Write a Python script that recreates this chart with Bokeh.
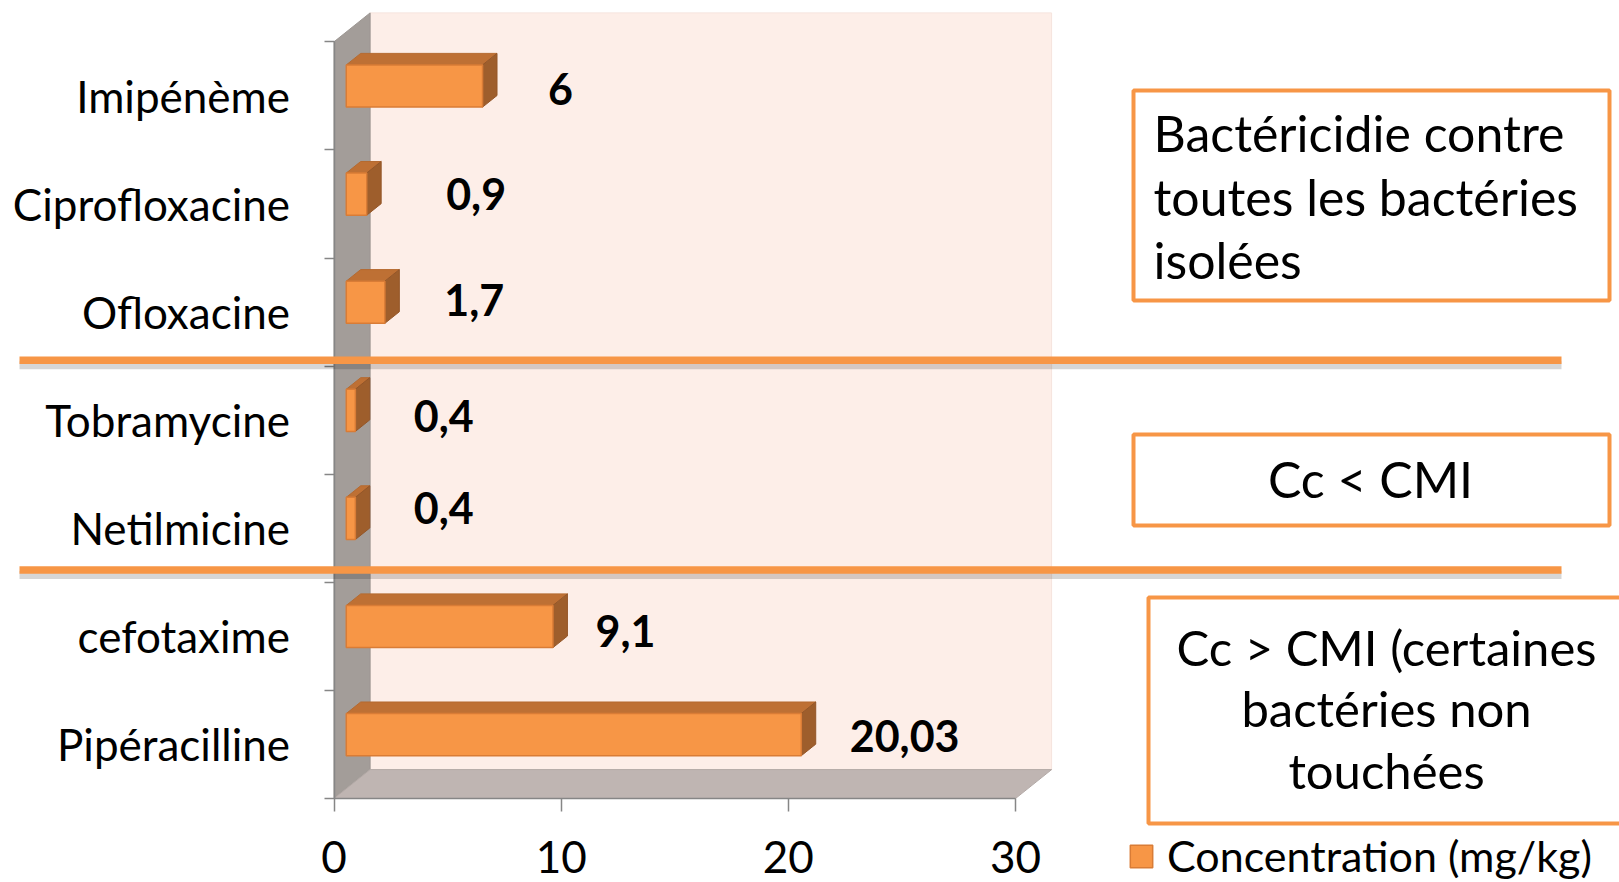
from bokeh.plotting import figure
from bokeh.models import Range1d, LinearAxis, FixedTicker, ColumnDataSource, Legend, LegendItem
from bokeh.core.properties import value
from bokeh.embed import file_html
from bokeh.resources import INLINE

# ---------------- data ----------------
categories = ["Pipéracilline", "cefotaxime", "Netilmicine", "Tobramycine",
              "Ofloxacine", "Ciprofloxacine", "Imipénème"]
concentrations = [20.03, 9.1, 0.4, 0.4, 1.7, 0.9, 6]
value_labels = ["20,03", "9,1", "0,4", "0,4", "1,7", "0,9", "6"]
x_ticks = [0, 10, 20, 30]
series_name = "Concentration (mg/kg)"
note_top = "Bactéricidie contre\ntoutes les bactéries\nisolées"
note_mid = "Cc < CMI"
note_bot = "Cc > CMI (certaines\nbactéries non\ntouchées"

# ---------------- layout / style ----------------
label_dx = [34, 28, 44, 44, 45, 65, 51]      # px, label offset from bar end
label_dy = [1, 4, -10, 6, -2, 0, 3]          # px, label offset (down)
FONT = "Lato"
ORANGE = "#F79646"
W, H = 1619, 882
OFF = 0
n = len(categories)
x_min, x_max = 0, 30
kx = (1015.0 - 333.5) / (x_max - x_min)      # px per value unit
ky = (798.0 - 41.3) / n                      # px per category
x_start = x_min - (333.5 - OFF) / kx
x_end = x_start + W / kx
y_base = 0.5
y_start = y_base - (OFF + H - 798.0) / ky
y_end = y_start + H / ky

def X(px):
    return x_start + (px - OFF) / kx

def Y(py):
    return y_end - (py - OFF) / ky

Dx = 36.1 / kx      # depth vector in data units
Dy = 28.9 / ky
f1, f2 = 0.34, 0.74  # bar depth from / to
bh = 0.39            # bar thickness (category units)

p = figure(width=W, height=H, x_range=Range1d(x_start, x_end), y_range=Range1d(y_start, y_end),
           output_backend="svg", toolbar_location=None, x_axis_location=None,
           y_axis_location=None, min_border=0)
p.outline_line_color = None
p.grid.grid_line_color = None
p.background_fill_color = "white"
p.border_fill_color = "white"

# ---------------- 3D walls ----------------
y_top = y_base + n
wall_xs = [
    [x_min + Dx, x_max + Dx, x_max + Dx, x_min + Dx],                 # back wall
    [x_min, x_min + Dx, x_min + Dx, x_min],                            # side wall
    [x_min, x_max, x_max + Dx, x_min + Dx],                            # floor
]
wall_ys = [
    [y_base + Dy, y_base + Dy, y_top + Dy, y_top + Dy],
    [y_base, y_base + Dy, y_top + Dy, y_top],
    [y_base, y_base, y_base + Dy, y_base + Dy],
]
p.patches(xs=wall_xs, ys=wall_ys, fill_color=["#FDEEE8", "#A39D99", "#BFB5B2"],
          line_color=["#F6E4DD", "#9C9692", "#B3A9A6"], line_width=1)

# ---------------- bars ----------------
centers = [i + 1 for i in range(n)]
x0f = [x_min + f1 * Dx for _ in concentrations]
x1f = [v + f1 * Dx for v in concentrations]
x0b = [x_min + f2 * Dx for _ in concentrations]
x1b = [v + f2 * Dx for v in concentrations]
ytf = [c + bh / 2 + f1 * Dy for c in centers]
ybf = [c - bh / 2 + f1 * Dy for c in centers]
ytb = [c + bh / 2 + f2 * Dy for c in centers]
ybb = [c - bh / 2 + f2 * Dy for c in centers]

top_xs = [[a, b, d, c] for a, b, c, d in zip(x0f, x1f, x0b, x1b)]
top_ys = [[t1, t1, t2, t2] for t1, t2 in zip(ytf, ytb)]
side_xs = [[b, b, d, d] for b, d in zip(x1f, x1b)]
side_ys = [[b1, t1, t2, b2] for b1, t1, t2, b2 in zip(ybf, ytf, ytb, ybb)]
p.patches(xs=top_xs, ys=top_ys, fill_color="#BE7034", line_color="#B56A30", line_width=1)
p.patches(xs=side_xs, ys=side_ys, fill_color="#9E5E2C", line_color="#945628", line_width=1)

src = ColumnDataSource(dict(cat=categories, v=concentrations, y=[c + f1 * Dy for c in centers],
                            left=x0f, right=x1f, lx=x1b, lab=value_labels,
                            dx=label_dx, dy=label_dy))
front = p.hbar(y="y", height=bh, left="left", right="right", source=src,
               fill_color=ORANGE, line_color="#D97C36", line_width=1.5)

p.text(x="lx", y="y", text="lab", x_offset="dx", y_offset="dy", source=src,
       text_font=value(FONT), text_font_style="bold", text_font_size="43px",
       text_color="black", text_align="left", text_baseline="middle")

# ---------------- axes ----------------
yaxis = LinearAxis(fixed_location=x_min,
                   ticker=FixedTicker(ticks=centers,
                                      minor_ticks=[y_base + i for i in range(n + 1)]),
                   major_label_overrides={c: cat for c, cat in zip(centers, categories)},
                   bounds=(y_base, y_top))
yaxis.major_tick_out = 0
yaxis.major_tick_in = 0
yaxis.minor_tick_out = 10
yaxis.minor_tick_in = 0
yaxis.minor_tick_line_color = "#868686"
yaxis.minor_tick_line_width = 1.5
yaxis.axis_line_color = "#868686"
yaxis.axis_line_width = 1.5
yaxis.major_label_text_font = FONT
yaxis.major_label_text_font_size = "44px"
yaxis.major_label_text_color = "black"
yaxis.major_label_standoff = 34
p.add_layout(yaxis, "left")

xaxis = LinearAxis(fixed_location=y_base, ticker=FixedTicker(ticks=x_ticks), bounds=(x_min, x_max))
xaxis.major_tick_out = 13
xaxis.major_tick_in = 0
xaxis.major_tick_line_color = "#868686"
xaxis.major_tick_line_width = 1.5
xaxis.axis_line_color = "#868686"
xaxis.axis_line_width = 1.5
xaxis.major_label_text_font = FONT
xaxis.major_label_text_font_size = "44px"
xaxis.major_label_text_color = "black"
xaxis.major_label_standoff = 29
p.add_layout(xaxis, "below")

# ---------------- separator lines ----------------
sep_py = [359.8, 569.4]
p.multi_line(xs=[[X(19), X(1561)] for _ in sep_py], ys=[[Y(s + 5)] * 2 for s in sep_py],
             line_color="#000000", line_alpha=0.16, line_width=8, level="overlay")
p.multi_line(xs=[[X(19), X(1561)] for _ in sep_py], ys=[[Y(s)] * 2 for s in sep_py],
             line_color=ORANGE, line_width=7.5, level="overlay")

# ---------------- note boxes ----------------
p.quad(left=[X(1133), X(1133), X(1148)], right=[X(1609), X(1609), X(1640)],
       top=[Y(90), Y(434), Y(597)], bottom=[Y(300), Y(525), Y(823)],
       fill_color="white", line_color=ORANGE, line_width=4)
p.text(x=[X(1153)], y=[Y(196.2)], text=[note_top], text_font=value(FONT), text_font_size="50px",
       text_color="black", text_align="left", text_baseline="middle", text_line_height=1.06)
p.text(x=[X(1370)], y=[Y(478)], text=[note_mid], text_font=value(FONT), text_font_size="50px",
       text_color="black", text_align="center", text_baseline="middle")
p.text(x=[X(1386)], y=[Y(708)], text=[note_bot], text_font=value(FONT), text_font_size="49px",
       text_color="black", text_align="center", text_baseline="middle", text_line_height=1.06)

# ---------------- legend ----------------
legend = Legend(items=[LegendItem(label=series_name, renderers=[front])],
                location=(1127 - OFF, 1), padding=0, margin=0, spacing=0,
                glyph_width=28, glyph_height=28, label_standoff=12,
                label_text_font=FONT, label_text_font_size="43px", label_text_color="black",
                border_line_color=None, background_fill_alpha=0)
p.add_layout(legend)

open("out.html", "w").write(file_html(p, INLINE))
